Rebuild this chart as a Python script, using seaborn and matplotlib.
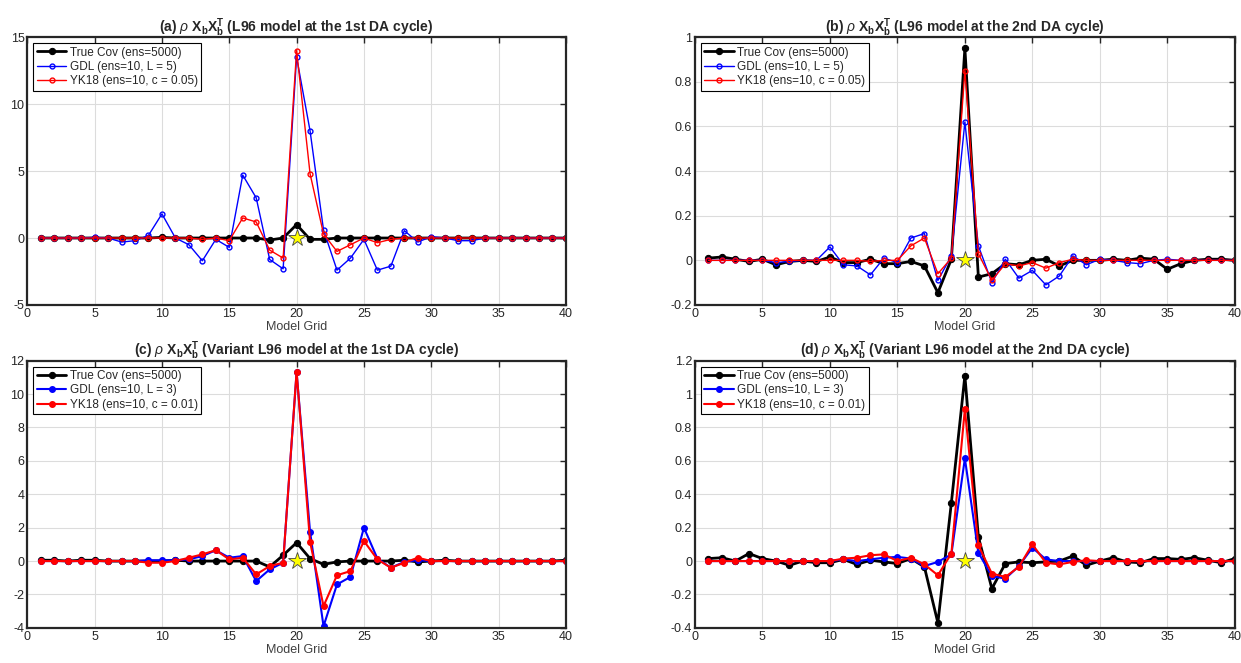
import numpy as np
import pandas as pd
import matplotlib
matplotlib.use("Agg")
import matplotlib.pyplot as plt
import seaborn as sns

grid = list(range(1, 41))

# (a) L96, 1st cycle
true_a = [0, 0, 0, 0, 0, 0, 0, 0, 0, 0.05, 0, 0, 0, 0, 0, 0, 0, -0.15, 0, 1.0,
          -0.1, -0.1, 0, 0, 0, 0, 0, 0, 0, 0, 0, 0, 0, 0, 0, 0, 0, 0, 0, 0]
gdl_a = [0, 0, 0, 0, 0.05, 0, -0.3, -0.2, 0.2, 1.8, 0, -0.5, -1.7, -0.1, -0.7, 4.7, 3.0, -1.6, -2.3, 13.5,
         8.0, 0.6, -2.4, -1.5, -0.1, -2.4, -2.1, 0.55, -0.3, 0.1, 0, -0.2, -0.2, 0, 0, 0, 0, 0, 0, 0]
yk_a = [0, 0, 0, 0, 0, 0, 0, 0, 0, 0, 0, 0, -0.1, 0, -0.2, 1.5, 1.2, -0.9, -1.5, 14.0,
        4.8, 0.3, -1.0, -0.5, 0, -0.35, -0.1, 0, 0, 0, 0, 0, 0, 0, 0, 0, 0, 0, 0, 0]

# (b) L96, 2nd cycle
true_b = [0.01, 0.015, 0.005, -0.005, 0.005, -0.02, -0.005, 0, -0.005, 0.015,
          -0.01, -0.01, 0.005, -0.015, -0.015, -0.005, -0.025, -0.145, 0.005, 0.95,
          -0.075, -0.06, -0.015, -0.02, 0, 0.005, -0.025, 0, 0, 0,
          0.005, 0, 0.01, 0.005, -0.04, -0.015, 0, 0.005, 0.005, 0]
gdl_b = [0, 0, 0, 0, 0, -0.01, -0.005, 0, 0, 0.06,
         -0.02, -0.025, -0.065, 0.01, -0.01, 0.1, 0.12, -0.09, 0.02, 0.62,
         0.065, -0.1, 0.005, -0.08, -0.045, -0.11, -0.07, 0.02, -0.02, 0.005,
         0, -0.01, -0.015, 0, 0.005, 0, 0, 0, 0, 0]
yk_b = [0, 0, 0, 0, 0, 0, 0, 0, 0, 0,
        0, 0, -0.005, 0, 0, 0.065, 0.1, -0.06, 0.01, 0.85,
        0.03, -0.09, -0.015, -0.025, -0.01, -0.035, -0.01, 0.005, 0, 0,
        0, 0, 0, 0, 0, 0, 0, 0, 0, 0]

# (c) variant L96, 1st cycle
true_c = [0.05, 0.05, 0, 0.05, 0.05, 0, 0, 0, 0, 0,
          0.05, 0, 0, 0, 0, 0, 0, -0.35, 0.35, 1.1,
          0.15, -0.2, -0.05, 0, 0, 0, 0, 0.05, -0.05, 0,
          0.05, 0, 0, 0, 0, 0, 0, 0, 0, 0.05]
gdl_c = [0, 0, 0, 0, 0, 0, 0, 0, 0.05, 0.05,
         0.05, 0.1, 0.3, 0.65, 0.2, 0.3, -1.2, -0.5, -0.1, 11.3,
         1.75, -3.9, -1.4, -0.95, 2.0, 0.15, -0.4, -0.05, 0.05, 0,
         0, 0, 0, 0, 0, 0, 0, 0, 0, 0]
yk_c = [0, 0, 0, 0, 0, 0, 0, 0, -0.1, -0.1,
        0, 0.2, 0.4, 0.65, 0.1, 0.2, -0.8, -0.3, -0.1, 11.35,
        1.15, -2.7, -0.85, -0.6, 1.2, 0.1, -0.4, -0.1, 0.2, 0,
        0, 0, 0, 0, 0, 0, 0, 0, 0, 0]

# (d) variant L96, 2nd cycle
true_d = [0.015, 0.02, 0, 0.045, 0.015, 0, -0.025, 0, -0.01, -0.01,
          0.01, -0.02, 0.005, -0.005, -0.015, 0.015, -0.035, -0.37, 0.35, 1.11,
          0.145, -0.165, -0.015, -0.005, -0.01, -0.005, 0, 0.03, -0.025, 0,
          0.02, -0.005, -0.01, 0.015, 0.015, 0.01, 0.02, 0.005, -0.01, 0.015]
gdl_d = [0, 0, 0, 0, 0, 0, 0, 0, 0, 0,
         0.01, 0, 0.01, 0.02, 0.025, 0.015, -0.03, -0.005, 0.04, 0.615,
         0.05, -0.09, -0.105, -0.03, 0.08, 0.01, 0, 0, 0, 0,
         0, 0, 0, 0, 0, 0, 0, 0, 0, 0]
yk_d = [0, 0, 0, 0, 0, 0, 0, 0, 0, 0,
        0.015, 0.02, 0.035, 0.04, 0, 0.02, -0.02, -0.085, 0.045, 0.91,
        0.095, -0.075, -0.095, -0.035, 0.1, -0.01, -0.02, -0.005, 0.005, 0,
        0, 0, 0, 0, 0, 0, 0, 0, 0, 0]

titles = [
    "(a) $\\rho$ $\\mathbf{X_bX_b^T}$ (L96 model at the 1st DA cycle)",
    "(b) $\\rho$ $\\mathbf{X_bX_b^T}$ (L96 model at the 2nd DA cycle)",
    "(c) $\\rho$ $\\mathbf{X_bX_b^T}$ (Variant L96 model at the 1st DA cycle)",
    "(d) $\\rho$ $\\mathbf{X_bX_b^T}$ (Variant L96 model at the 2nd DA cycle)",
]
gdl_labels = ["GDL (ens=10, L = 5)", "GDL (ens=10, L = 5)", "GDL (ens=10, L = 3)", "GDL (ens=10, L = 3)"]
yk_labels = ["YK18 (ens=10, c = 0.05)", "YK18 (ens=10, c = 0.05)", "YK18 (ens=10, c = 0.01)", "YK18 (ens=10, c = 0.01)"]
ylims = [(-5, 15), (-0.2, 1), (-4, 12), (-0.4, 1.2)]
yticks = [[-5, 0, 5, 10, 15],
          [-0.2, 0, 0.2, 0.4, 0.6, 0.8, 1],
          [-4, -2, 0, 2, 4, 6, 8, 10, 12],
          [-0.4, -0.2, 0, 0.2, 0.4, 0.6, 0.8, 1, 1.2]]

sns.set_style("whitegrid")
plt.rcParams['font.family'] = ['Liberation Sans', 'DejaVu Sans']
plt.rcParams['mathtext.fontset'] = 'custom'
plt.rcParams['mathtext.rm'] = 'Liberation Sans'
plt.rcParams['mathtext.it'] = 'Liberation Sans:italic'
plt.rcParams['mathtext.bf'] = 'Liberation Sans:bold'

fig = plt.figure(figsize=(12.41, 6.63), dpi=100)
positions = [[0.022, 0.540, 0.434, 0.404],
             [0.560, 0.540, 0.435, 0.404],
             [0.022, 0.053, 0.434, 0.403],
             [0.560, 0.053, 0.435, 0.403]]

series = [(true_a, gdl_a, yk_a), (true_b, gdl_b, yk_b),
          (true_c, gdl_c, yk_c), (true_d, gdl_d, yk_d)]

for i in range(4):
    ax = fig.add_axes(positions[i])
    tr, gd, yk = series[i]
    thick = i >= 2
    sns.lineplot(x=grid, y=tr, ax=ax, color="black", linewidth=2, marker="o",
                 markersize=4.5, markeredgecolor="black", label="True Cov (ens=5000)")
    sns.lineplot(x=grid, y=gd, ax=ax, color="blue", linewidth=1.5 if thick else 1.0,
                 marker="o", markersize=4 if thick else 3.5,
                 markerfacecolor="none" if not thick else "blue",
                 markeredgecolor="blue", markeredgewidth=1, label=gdl_labels[i])
    sns.lineplot(x=grid, y=yk, ax=ax, color="red", linewidth=1.5 if thick else 1.0,
                 marker="o", markersize=4 if thick else 3.5,
                 markerfacecolor="none" if not thick else "red",
                 markeredgecolor="red", markeredgewidth=1, label=yk_labels[i])
    ax.plot([20], [0], marker="*", markersize=13, color="yellow",
            markeredgecolor="#444444", markeredgewidth=0.6, linestyle="none", zorder=5)

    ax.set_xlim(0, 40)
    ax.set_ylim(*ylims[i])
    ax.set_xticks(range(0, 41, 5))
    ax.set_yticks(yticks[i])
    ax.set_yticklabels([f"{v:g}" for v in yticks[i]])
    ax.grid(True, color="#dcdcdc", linewidth=0.8)
    for sp in ax.spines.values():
        sp.set_edgecolor("#262626")
        sp.set_linewidth(1.6)
    ax.tick_params(direction="in", length=4, width=1, top=True, right=True,
                   labelsize=9, colors="#262626", pad=2)
    ax.set_xlabel("Model Grid", fontsize=9, color="#404040", labelpad=1)
    ax.set_ylabel("")
    ax.set_title(titles[i], fontsize=10, fontweight="bold", pad=4)
    leg = ax.legend(loc="upper left", fontsize=8.5, frameon=True, fancybox=False,
                    framealpha=1, edgecolor="black", borderpad=0.3, labelspacing=0.2,
                    handlelength=2.5, handletextpad=0.3, borderaxespad=0.5)
    leg.get_frame().set_linewidth(0.8)

plt.savefig("out.png", dpi=100)
